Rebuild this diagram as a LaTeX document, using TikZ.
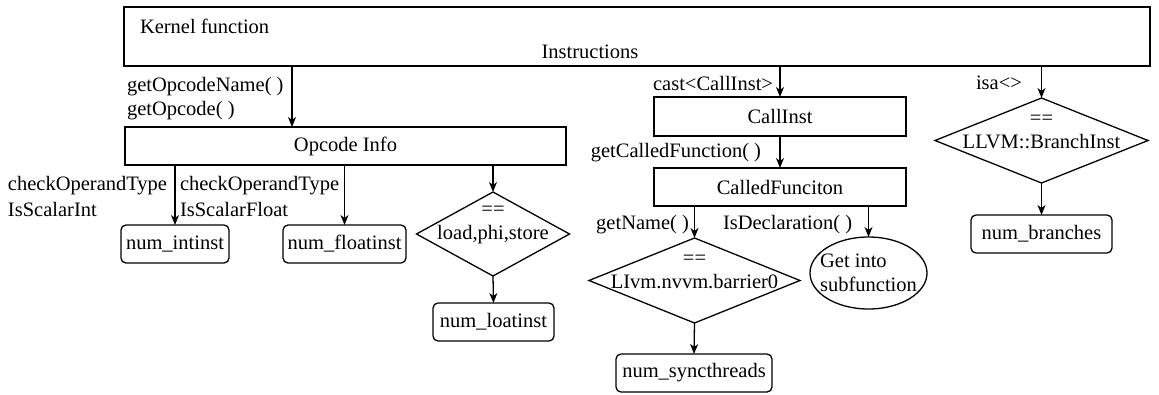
\documentclass[tikz,border=0pt]{standalone}
\usepackage{fontspec}
\setmainfont{Liberation Serif}
\usetikzlibrary{shapes.geometric,arrows.meta}
\begin{document}
\begin{tikzpicture}[x=1pt,y=-1pt,
  every node/.style={font=\fontsize{20.5}{24}\selectfont, inner sep=0pt, outer sep=0pt},
  lw/.style={line width=1.3pt},
  box/.style={draw, lw, rectangle, minimum height=38pt, minimum width=#1},
  rbox/.style={draw, lw, rectangle, rounded corners=5pt, minimum height=38pt, minimum width=#1},
  dia/.style={draw, lw, diamond, minimum width=#1, minimum height=85pt},
  arr/.style={lw, -{Stealth[length=10pt,width=8pt,inset=3pt]}},
  lab/.style={anchor=west},
  labe/.style={anchor=east}]
\useasboundingbox (0,0) rectangle (1159,394);

% boxes
\node[box=1026pt, minimum height=59pt] (kf) at (637,36.5) {};
\node[lab] (kft) at (140,26) {Kernel function};
\node (ins) at (590,52) {Instructions};

\node[box=441pt] (op) at (345.5,146) {Opcode Info};
\node[rbox=108pt] (ii) at (175,244) {num\_intinst};
\node[rbox=123pt] (fi) at (344.5,244) {num\_floatinst};
\node[dia=153pt, minimum height=84pt,
      label={[align=center, yshift=9pt]center:==\\load,phi,store}] (d1) at (493,234) {};
\node[rbox=121pt] (li) at (493.5,322) {num\_loatinst};

\node[box=252pt, minimum height=39pt] (ci) at (780,116.5) {CallInst};
\node[box=252pt] (cf) at (780,187) {CalledFunciton};
\node[dia=211pt,
      label={[align=center, yshift=9pt]center:==\\LIvm.nvvm.barrier0}] (d2) at (694.5,280.5) {};
\node[rbox=156pt] (st) at (694,373) {num\_syncthreads};
\node[draw, lw, ellipse, minimum width=117pt, minimum height=72pt,
      label={[align=left]center:Get into\\subfunction}] (el) at (868.5,273) {};

\node[dia=213pt,
      label={[align=center, yshift=9pt]center:==\\LLVM::BranchInst}] (d3) at (1041.5,140.5) {};
\node[rbox=141pt] (br) at (1041.5,234) {num\_branches};

% connectors
\coordinate (xa) at (292,0);
\draw[arr] (kf.south -| xa) -- (op.north -| xa);
\draw[arr] (kf.south -| ci) -- (ci.north);
\draw[arr] (kf.south -| d3) -- (d3.north);
\draw[arr] (ci.south) -- (cf.north);
\draw[arr] (op.south -| ii) -- (ii.north);
\draw[arr] (op.south -| fi) -- (fi.north);
\draw[arr] (op.south -| d1) -- (d1.north);
\draw[arr] (d1.south) -- (li.north);
\draw[arr] (cf.south -| d2) -- (d2.north);
\draw[arr] (cf.south -| el) -- (el.north);
\draw[arr] (d2.south) -- (st.north);
\draw[arr] (d3.south) -- (br.north);

% connector labels
\node[lab] (l1) at (127,87) {getOpcodeName( )};
\node[lab] (l2) at (127,111) {getOpcode( )};
\node[labe] (l3) at (773,83) {cast<CallInst>};
\node[labe] (l4) at (761,153) {getCalledFunction( )};
\node[lab] (l5) at (976,83) {isa<>};
\node[lab] (l6) at (8,186) {checkOperandType};
\node[lab] (l7) at (8,209) {IsScalarInt};
\node[lab] (l8) at (180,186) {checkOperandType};
\node[lab] (l9) at (180,209) {IsScalarFloat};
\node[labe] (l10) at (689,225) {getName( )};
\node[lab] (l11) at (723,225) {IsDeclaration( )};
\end{tikzpicture}
\end{document}
